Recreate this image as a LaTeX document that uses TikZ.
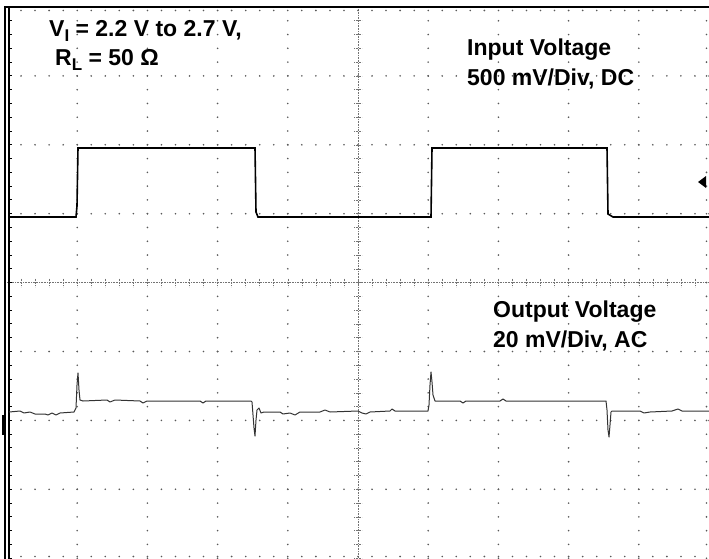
\documentclass[tikz,border=0pt]{standalone}
\usepackage{fontspec}
\setmainfont{Liberation Sans}
\usetikzlibrary{positioning}

\newcommand{\dropsub}[1]{\raisebox{-5pt}{\fontsize{17}{17}\selectfont #1}}

\begin{document}
\begin{tikzpicture}[x=1pt, y=-1pt,
    dot/.style={fill=black!65},
    centre/.style={black!55, densely dotted, line width=0.6pt},
    border/.style={black, line width=1.3pt},
    intrace/.style={black, line width=1.6pt},
    outtrace/.style={black!80, line width=1pt, line join=round},
    label/.style={inner sep=0pt, anchor=base west, font=\fontsize{23}{27}\selectfont\bfseries}]
    \useasboundingbox (0,0) rectangle (709,559);
    % graticule: dotted division lines
    \foreach \i in {1,2,3,4,6,7,8,9}
      \foreach \k in {1,...,40}
        \fill[dot] (7+\i*70.2, 7+\k*13.78) circle (0.9pt);
    \foreach \j in {1,2,3,5,6,7}
      \foreach \k in {1,...,50}
        \fill[dot] (7+\k*14.04, 7+\j*68.9) circle (0.9pt);
    % centre lines with minor ticks
    \draw[centre] (7,282.6) -- (709,282.6);
    \foreach \k in {1,...,50}
      \draw[centre] (7+\k*14.04,278.6) -- ++(0,8);
    \draw[centre] (358,7) -- (358,559);
    \foreach \k in {1,...,40}
      \draw[centre] (354,7+\k*13.78) -- ++(8,0);
    % frame
    \draw[border] (5,559) -- (5,7) -- (709,7);
    \draw[border] (9,559) -- (9,7);
    \foreach \k in {1,...,40}
      \draw[line width=1pt] (9,7+\k*13.78) -- ++(3,0);
    \foreach \k in {1,...,49} {
      \fill[dot] (7+\k*14.04,10.5) circle (0.9pt);
      \fill[dot] (7+\k*14.04,556.5) circle (0.9pt);
    }
    \foreach \k in {1,...,40}
      \fill[dot] (706.5,7+\k*13.78) circle (0.9pt);
    % channel markers
    \fill (698,182) -- (706,176) -- (706,188) -- cycle;
    \draw[line width=2pt] (3,415) -- (3,435);
    % input voltage
    \draw[intrace] (9,217) -- (76,217) -- (77,206) -- (78,148) -- (255,148)
      -- (256,212) -- (258,217) -- (431,217) -- (432,148) -- (607,148)
      -- (608,214) -- (613,217) -- (709,217);
    % output voltage
    \draw[outtrace] (9,412) -- (20,411) -- (24,413) -- (30,412) -- (35,414)
      -- (45,414) -- (48,415) -- (52,413) -- (56,415) -- (60,413) -- (74,412)
      -- (76,408) -- (77,385) -- (78,373) -- (79,390) -- (80,400) -- (83,401)
      -- (107,400) -- (110,402) -- (115,400) -- (140,401) -- (143,403)
      -- (147,401) -- (200,401) -- (203,403) -- (206,401) -- (251,401)
      -- (252,402) -- (254,428) -- (255,436) -- (256,420) -- (257,410)
      -- (259,408) -- (261,413) -- (264,412) -- (280,412) -- (283,414)
      -- (290,413) -- (295,415) -- (300,412) -- (320,412) -- (325,410)
      -- (330,412) -- (358,411) -- (362,413) -- (366,414) -- (370,412)
      -- (390,411) -- (392,409) -- (395,411) -- (428,411) -- (429,405)
      -- (430,385) -- (431,372) -- (432,382) -- (433,395) -- (435,401)
      -- (460,401) -- (463,403) -- (466,401) -- (500,401) -- (503,399)
      -- (506,401) -- (606,401) -- (607,410) -- (608,430) -- (609,437)
      -- (610,425) -- (611,412) -- (612,411) -- (640,411) -- (644,413)
      -- (650,412) -- (672,411) -- (678,409) -- (682,411) -- (709,411);
    % labels
    \node[label] (cond) at (49,37) {V\dropsub{I} = 2.2 V to 2.7 V,};
    \node[label] (load) at (55,66) {R\dropsub{L} = 50 Ω};
    \node[label] (inname) at (467,56) {Input Voltage};
    \node[label] (inscale) at (467,86) {500 mV/Div, DC};
    \node[label] (outname) at (493,317) {Output Voltage};
    \node[label] (outscale) at (493,347) {20 mV/Div, AC};
  \end{tikzpicture}
\end{document}
